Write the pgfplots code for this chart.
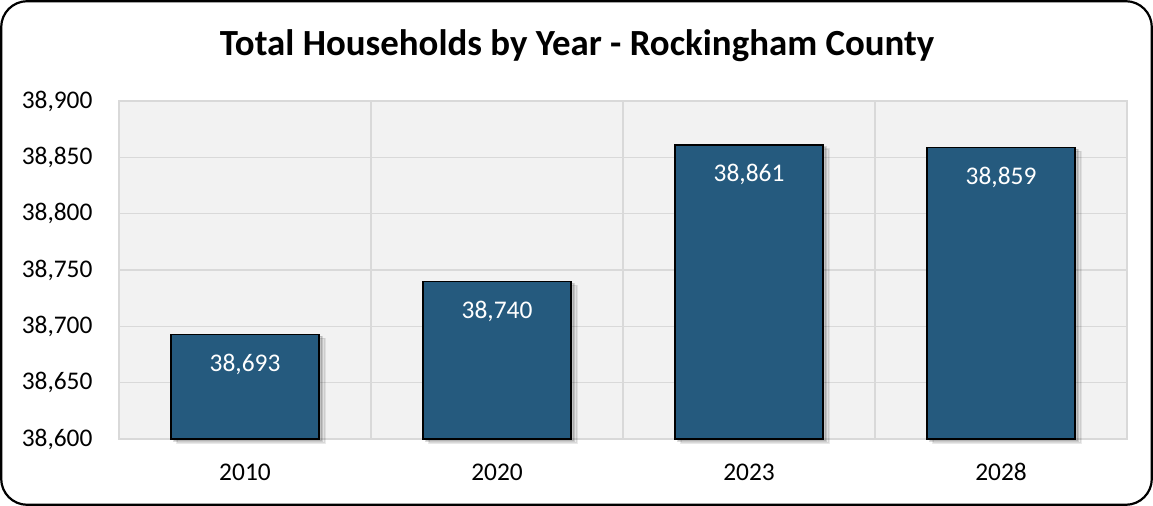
\documentclass[border=0pt]{standalone}
\usepackage{pgfplots}
\pgfplotsset{compat=1.18}
\usepackage{fontspec}
\setmainfont{Carlito}
\definecolor{barblue}{HTML}{255A7E}
\definecolor{gridgray}{HTML}{D9D9D9}
\definecolor{plotbg}{HTML}{F2F2F2}
\begin{document}
\begin{tikzpicture}
\useasboundingbox (-119bp,-67bp) rectangle (1034bp,439bp);
\draw[line width=2.2bp, rounded corners=26bp, fill=white] (-117.8bp,-65.8bp) rectangle (1032.8bp,437.8bp);
\node[font=\fontsize{37}{42}\selectfont\bfseries] at (458bp,393bp) {Total Households by Year - Rockingham County};
\begin{axis}[
  at={(0,0)}, anchor=south west,
  scale only axis,
  width=1008bp, height=338bp,
  xmin=-0.5, xmax=3.5,
  ymin=38600, ymax=38900,
  ytick={38600,38650,38700,38750,38800,38850,38900},
  xtick={0,1,2,3},
  xticklabels={2010,2020,2023,2028},
  minor xtick={0.5,1.5,2.5},
  xminorgrids, ymajorgrids,
  grid style={gridgray, line width=1.3bp},
  minor grid style={gridgray, line width=1.3bp},
  axis line style={gridgray, line width=1.3bp},
  axis background/.style={fill=plotbg},
  major tick length=0pt, minor tick length=0pt,
  scaled y ticks=false,
  /pgf/number format/assume math mode=true,
  /pgf/number format/1000 sep={,},
  yticklabel style={font=\fontsize{25.5}{30}\selectfont, anchor=east, xshift=-23bp},
  xticklabel style={font=\fontsize{25.5}{30}\selectfont, yshift=-21bp},
  ybar, bar width=0.587,
  nodes near coords,
  every node near coord/.append style={font=\fontsize{25.5}{30}\selectfont, text=white, anchor=center, yshift=-30bp},
  clip=false,
]
\addplot[fill=barblue, draw=black, line width=1.2bp,
  preaction={fill=black, opacity=0.08, transform canvas={xshift=6bp, yshift=-4bp}},
  preaction={fill=black, opacity=0.12, transform canvas={xshift=3bp, yshift=-2bp}}]
  coordinates {(0,38693) (1,38740) (2,38861) (3,38859)};
\end{axis}
\end{tikzpicture}
\end{document}
